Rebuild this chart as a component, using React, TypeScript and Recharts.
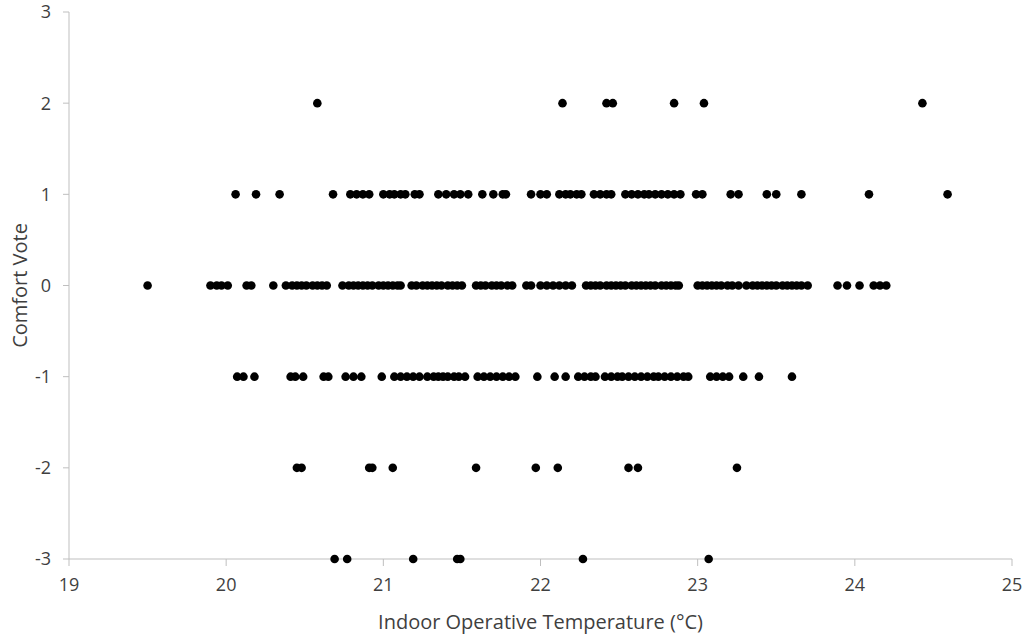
import React from "react";
import { ScatterChart, Scatter, XAxis, YAxis } from "recharts";

// Indoor operative temperature (°C) of each response, grouped by comfort vote
const tempsVotePlus2 = [20.58, 22.14, 22.42, 22.46, 22.85, 23.04, 24.43];
const tempsVotePlus1 = [
  20.06, 20.19, 20.34, 20.68, 20.79, 20.83, 20.87, 20.91, 21.0, 21.04, 21.07, 21.11, 21.14,
  21.2, 21.23, 21.35, 21.4, 21.45, 21.49, 21.54, 21.63, 21.7, 21.76, 21.78, 21.94, 22.0,
  22.04, 22.12, 22.16, 22.19, 22.23, 22.26, 22.34, 22.38, 22.42, 22.45, 22.54, 22.58, 22.62,
  22.66, 22.69, 22.73, 22.77, 22.81, 22.85, 22.89, 22.99, 23.03, 23.21, 23.26, 23.44, 23.5,
  23.66, 24.09, 24.59,
];
const tempsVote0 = [
  19.5, 19.9, 19.94, 19.97, 20.01, 20.13, 20.16, 20.3, 20.38, 20.42, 20.45, 20.48, 20.51,
  20.55, 20.58, 20.61, 20.64, 20.74, 20.78, 20.81, 20.84, 20.87, 20.9, 20.93, 20.97, 21.0,
  21.03, 21.06, 21.09, 21.11, 21.18, 21.21, 21.25, 21.28, 21.31, 21.34, 21.37, 21.41, 21.44,
  21.47, 21.5, 21.59, 21.62, 21.65, 21.69, 21.72, 21.75, 21.79, 21.82, 21.91, 21.94, 22.0,
  22.04, 22.08, 22.12, 22.16, 22.2, 22.29, 22.32, 22.35, 22.38, 22.42, 22.45, 22.48, 22.51,
  22.54, 22.58, 22.61, 22.64, 22.67, 22.7, 22.73, 22.77, 22.8, 22.83, 22.86, 22.88, 23.0,
  23.03, 23.06, 23.09, 23.12, 23.15, 23.19, 23.22, 23.26, 23.31, 23.35, 23.38, 23.41, 23.44,
  23.47, 23.5, 23.54, 23.57, 23.6, 23.63, 23.66, 23.7, 23.89, 23.95, 24.03, 24.12, 24.16,
  24.2,
];
const tempsVoteMinus1 = [
  20.07, 20.11, 20.18, 20.41, 20.44, 20.49, 20.62, 20.65, 20.76, 20.81, 20.86, 20.99, 21.07,
  21.11, 21.15, 21.19, 21.23, 21.28, 21.32, 21.35, 21.38, 21.41, 21.45, 21.48, 21.52, 21.6,
  21.64, 21.68, 21.72, 21.76, 21.8, 21.84, 21.98, 22.09, 22.16, 22.24, 22.28, 22.32, 22.35,
  22.41, 22.45, 22.49, 22.52, 22.56, 22.6, 22.64, 22.68, 22.72, 22.75, 22.79, 22.83, 22.87,
  22.91, 22.94, 23.08, 23.12, 23.16, 23.2, 23.29, 23.39, 23.6,
];
const tempsVoteMinus2 = [20.45, 20.48, 20.91, 20.93, 21.06, 21.59, 21.97, 22.11, 22.56, 22.62, 23.25];
const tempsVoteMinus3 = [20.69, 20.77, 21.19, 21.47, 21.49, 22.27, 23.07];

const xTicks = [19, 20, 21, 22, 23, 24, 25];
const yTicks = [-3, -2, -1, 0, 1, 2, 3];

const groups: [number, number[]][] = [
  [2, tempsVotePlus2],
  [1, tempsVotePlus1],
  [0, tempsVote0],
  [-1, tempsVoteMinus1],
  [-2, tempsVoteMinus2],
  [-3, tempsVoteMinus3],
];

const points = groups.flatMap(([vote, temps]) => temps.map((t) => ({ temp: t, vote })));

const FONT = "'Open Sans', 'Liberation Sans', sans-serif";
const AXIS = "#bfbfbf";
const TEXT = "#3f3f3f";

const Dot = (props: any) => <circle cx={props.cx} cy={props.cy} r={4.3} fill="#000" />;

export default function App() {
  return (
    <div style={{ width: 1024, height: 637, background: "#fff" }}>
      <style>{"body{margin:0} .recharts-wrapper svg g[clip-path]{clip-path:none !important}"}</style>
      <ScatterChart width={1024} height={637} margin={{ top: 12, right: 12, bottom: 6, left: 0 }}>
        <XAxis
          type="number"
          dataKey="temp"
          domain={[19, 25]}
          ticks={xTicks}
          stroke={AXIS}
          tickSize={7}
          tickMargin={12}
          height={72}
          tick={{ fill: TEXT, fontSize: 18, fontFamily: FONT }}
          label={{
            value: "Indoor Operative Temperature (°C)",
            position: "insideBottom",
            offset: 2,
            fill: TEXT,
            fontSize: 20,
            fontFamily: FONT,
          }}
        />
        <YAxis
          type="number"
          dataKey="vote"
          domain={[-3, 3]}
          ticks={yTicks}
          stroke={AXIS}
          tickSize={6}
          tickMargin={12}
          width={69}
          tick={{ fill: TEXT, fontSize: 18, fontFamily: FONT }}
          label={{
            value: "Comfort Vote",
            angle: -90,
            position: "insideLeft",
            offset: 20,
            style: { textAnchor: "middle" },
            fill: TEXT,
            fontSize: 20,
            fontFamily: FONT,
          }}
        />
        <Scatter data={points} shape={Dot} isAnimationActive={false} />
      </ScatterChart>
    </div>
  );
}
